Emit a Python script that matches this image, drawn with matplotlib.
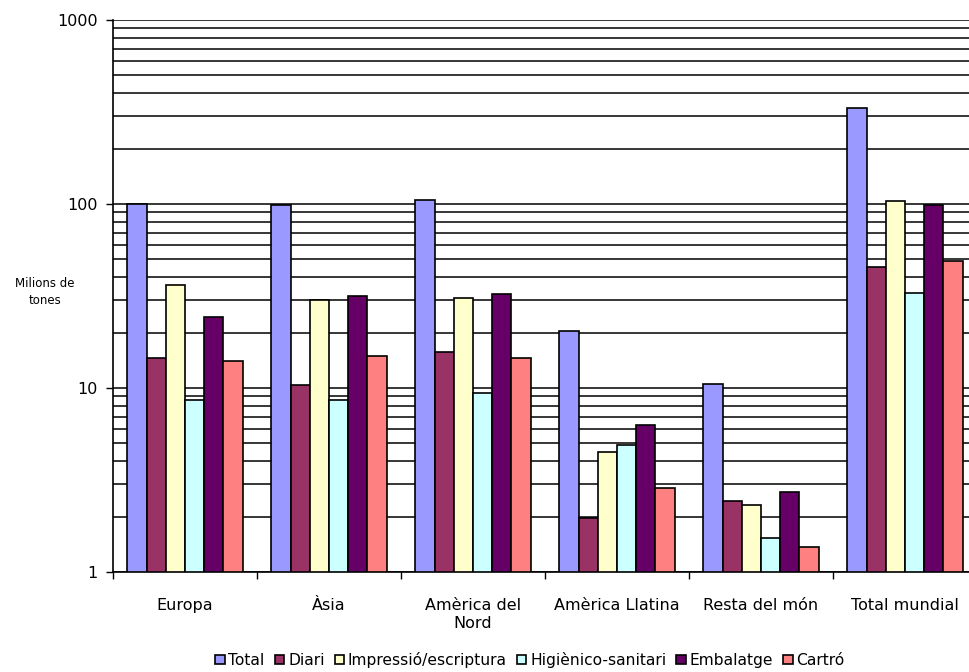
import matplotlib
matplotlib.use("Agg")
import matplotlib.pyplot as plt
import numpy as np
from matplotlib.ticker import LogLocator, FixedLocator, NullFormatter

plt.rcParams['font.family'] = ['DejaVu Sans']

regions = ["Europa", "Àsia", "Amèrica del\nNord", "Amèrica Llatina",
           "Resta del món", "Total mundial"]
series_names = ["Total", "Diari", "Impressió/escriptura", "Higiènico-sanitari",
                "Embalatge", "Cartró"]

total = [100, 98.4, 104.8, 20.5, 10.5, 332]
diari = [14.6, 10.4, 15.7, 1.97, 2.42, 45.3]
impressio = [36.5, 29.9, 30.9, 4.5, 2.3, 104]
higienic = [8.6, 8.6, 9.4, 4.9, 1.53, 32.9]
embalatge = [24.4, 31.7, 32.4, 6.3, 2.73, 98.4]
cartro = [14.0, 15.0, 14.6, 2.87, 1.36, 49.2]

series = [total, diari, impressio, higienic, embalatge, cartro]
colors = ["#9999FF", "#993366", "#FFFFCC", "#CCFFFF", "#660066", "#FF8080"]

W, H = 969, 672
fig = plt.figure(figsize=(W / 100, H / 100), dpi=100)
left, right, top, bottom = 113, 977, 20, 572
ax = fig.add_axes([left / W, (H - bottom) / H, (right - left) / W, (bottom - top) / H])

n = len(series)
gap = 1.5
bw = 1.0 / (n + gap)
x0 = np.arange(len(regions))
for i, (vals, c, name) in enumerate(zip(series, colors, series_names)):
    xs = x0 + bw * (gap / 2 + i + 0.5)
    ax.bar(xs, vals, width=bw, color=c, edgecolor="black", linewidth=1.2,
           label=name, zorder=3)

ax.set_yscale("log")
ax.set_ylim(1, 1000)
ax.set_xlim(0, len(regions))

# horizontal grid at every major and minor log step
ax.yaxis.set_minor_locator(LogLocator(base=10, subs=np.arange(2, 10), numticks=20))
ax.yaxis.set_minor_formatter(NullFormatter())
ax.set_yticks([1, 10, 100, 1000])
ax.set_yticklabels(["1", "10", "100", "1000"])
ax.grid(True, which="both", axis="y", color="black", linewidth=1.1, zorder=0)
ax.tick_params(axis="y", which="major", length=5, width=1, direction="out",
               labelsize=11.5, pad=6)
ax.tick_params(axis="y", which="minor", length=0)

# category boundaries as ticks, names centred between them
ax.xaxis.set_major_locator(FixedLocator(np.arange(len(regions) + 1)))
ax.xaxis.set_major_formatter(NullFormatter())
ax.xaxis.set_minor_locator(FixedLocator(x0 + 0.5))
ax.set_xticklabels(regions, minor=True)
ax.tick_params(axis="x", which="major", length=5, width=1, direction="out")
ax.tick_params(axis="x", which="minor", length=0, labelsize=11.5, pad=19)

for s in ["top", "right"]:
    ax.spines[s].set_visible(False)
for s in ["left", "bottom"]:
    ax.spines[s].set_color("black")
    ax.spines[s].set_linewidth(1.2)
    ax.spines[s].set_zorder(4)

fig.text(45 / W, 1 - 292 / H, "Milions de\ntones", ha="center", va="center",
         fontsize=8.5, linespacing=1.4)

fig.legend(loc="center", bbox_to_anchor=(530 / W, 1 - 660 / H), ncol=6,
           frameon=False, fontsize=11.2, handlelength=0.6, handleheight=0.6,
           handletextpad=0.25, columnspacing=0.65, borderaxespad=0)

fig.savefig("out.png", dpi=100)
